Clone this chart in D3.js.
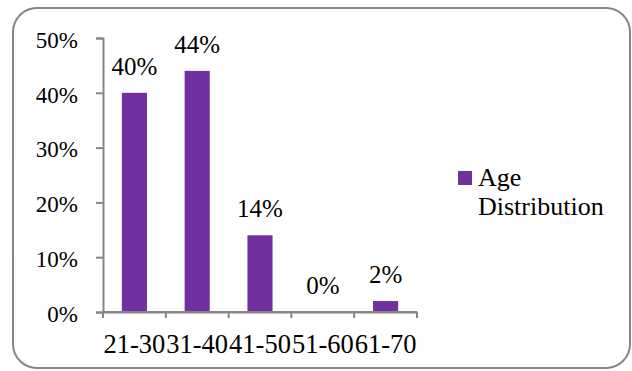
<!DOCTYPE html>
<html>
<head>
<meta charset="utf-8">
<script src="https://cdn.jsdelivr.net/npm/d3@7"></script>
<style>
	body { margin: 0; background: #fff; }
</style>
</head>
<body>
<div id="chart-area"></div>
<script>
// Age distribution column chart

var categories = ["21-30", "31-40", "41-50", "51-60", "61-70"];
var values = [0.40, 0.44, 0.14, 0.00, 0.02];
var yTicks = [0, 0.1, 0.2, 0.3, 0.4, 0.5];
var seriesName = ["Age", "Distribution"];

var W = 632, H = 371;
var plot = { left: 103, right: 417, top: 38, bottom: 312 };
var barColor = "#7030a0";
var axisColor = "#868686";
var serif = "Liberation Serif";

var fmt = d3.format(".0%");

var svg = d3.select("#chart-area")
	.append("svg")
	.attr("width", W)
	.attr("height", H);

// outer frame
svg.append("rect")
	.attr("x", 13)
	.attr("y", 8)
	.attr("width", 617)
	.attr("height", 360)
	.attr("rx", 24)
	.attr("fill", "#fff")
	.attr("stroke", axisColor)
	.attr("stroke-width", 2);

var x = d3.scaleBand()
	.domain(categories)
	.range([plot.left, plot.right]);

var y = d3.scaleLinear()
	.domain([0, 0.5])
	.range([plot.bottom, plot.top]);

// y axis
var yAxis = svg.append("g")
	.attr("transform", "translate(" + plot.left + ",0)")
	.call(d3.axisLeft(y).tickValues(yTicks).tickFormat(fmt).tickSizeOuter(0).tickSize(7).tickPadding(18));
yAxis.attr("font-family", null).attr("font-size", null);
yAxis.selectAll("text")
	.style("font-family", serif)
	.style("font-size", "23px")
	.attr("fill", "#000")
	.attr("dy", "0.4em");

// x axis
var xAxis = svg.append("g")
	.attr("transform", "translate(0," + plot.bottom + ")")
	.call(d3.axisBottom(x).tickSize(0).tickPadding(22));
xAxis.attr("font-family", null).attr("font-size", null);
xAxis.selectAll("text")
	.style("font-family", serif)
	.style("font-size", "26.5px")
	.attr("fill", "#000")
	.attr("dy", "0.71em");

// x tick marks sit on band edges
xAxis.selectAll(".edge")
	.data(d3.range(categories.length + 1))
	.enter()
	.append("line")
	.attr("class", "edge")
	.attr("x1", function(i){ return plot.left + i * x.step(); })
	.attr("x2", function(i){ return plot.left + i * x.step(); })
	.attr("y1", 0)
	.attr("y2", 6);

svg.selectAll(".domain, .tick line, .edge")
	.attr("stroke", axisColor)
	.attr("stroke-width", 2);

var barW = x.bandwidth() * 0.4;

svg.selectAll("rect.bar")
	.data(values)
	.enter()
	.append("rect")
	.attr("class", "bar")
	.attr("x", function(d, i){ return x(categories[i]) + (x.bandwidth() - barW) / 2; })
	.attr("y", function(d){ return y(d); })
	.attr("width", barW)
	.attr("height", function(d){ return y(0) - y(d); })
	.attr("fill", barColor);

// redraw x axis line over bars
svg.append("line")
	.attr("x1", plot.left).attr("x2", plot.right)
	.attr("y1", plot.bottom).attr("y2", plot.bottom)
	.attr("stroke", axisColor)
	.attr("stroke-width", 2);

svg.selectAll("text.label")
	.data(values)
	.enter()
	.append("text")
	.attr("class", "label")
	.attr("x", function(d, i){ return x(categories[i]) + x.bandwidth() / 2; })
	.attr("y", function(d){ return y(d) - 18; })
	.attr("text-anchor", "middle")
	.style("font-family", serif)
	.style("font-size", "25px")
	.text(function(d){ return fmt(d); });

// legend
var legend = svg.append("g")
	.attr("transform", "translate(458,171)");

legend.append("rect")
	.attr("width", 14)
	.attr("height", 14)
	.attr("fill", barColor);

legend.selectAll("text")
	.data(seriesName)
	.enter()
	.append("text")
	.attr("x", 20)
	.attr("y", function(d, i){ return 15 + i * 29; })
	.style("font-family", serif)
	.style("font-size", "26px")
	.text(function(d){ return d; });
</script>
</body>
</html>
